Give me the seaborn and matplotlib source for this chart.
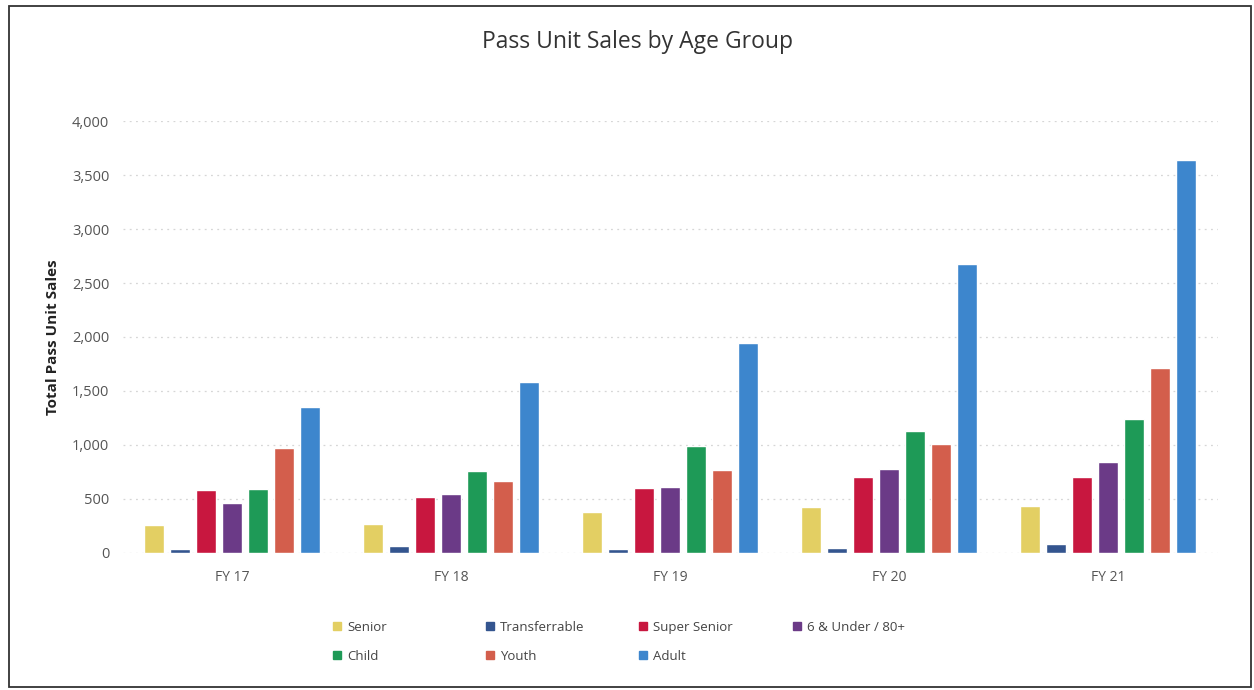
import matplotlib
matplotlib.use("Agg")
import matplotlib.pyplot as plt
from matplotlib.patches import Rectangle
from matplotlib.lines import Line2D
import seaborn as sns
import pandas as pd

# Fiscal years and age groups
years = ["FY 17", "FY 18", "FY 19", "FY 20", "FY 21"]
groups = ["Senior", "Transferrable", "Super Senior", "6 & Under / 80+",
          "Child", "Youth", "Adult"]

# Pass unit sales per age group, one value per fiscal year
senior = [255, 265, 380, 425, 435]
transferrable = [40, 65, 40, 45, 80]
super_senior = [580, 520, 605, 700, 700]
under6_80plus = [460, 545, 610, 775, 845]
child = [590, 760, 990, 1130, 1240]
youth = [970, 670, 770, 1005, 1715]
adult = [1350, 1585, 1945, 2680, 3640]

colors = ["#E3CF63", "#34558F", "#C8173F", "#6B3A87",
          "#1E9A57", "#D35E4C", "#3D86CD"]

series = [senior, transferrable, super_senior, under6_80plus, child, youth, adult]
rows = []
for g, vals in zip(groups, series):
    for y, v in zip(years, vals):
        rows.append({"Year": y, "Group": g, "Sales": v})
df = pd.DataFrame(rows)

sns.set_theme(style="white")
plt.rcParams["font.family"] = ["Open Sans", "DejaVu Sans"]

W, H = 1254, 690
fig = plt.figure(figsize=(W / 100, H / 100), dpi=100)
ax = fig.add_axes([0.0977, 0.1986, 0.8733, 0.626])

sns.barplot(data=df, x="Year", y="Sales", hue="Group", order=years,
            hue_order=groups, palette=colors, width=0.83, gap=0.25,
            saturation=1, errorbar=None, legend=False, ax=ax)

ax.set_ylim(0, 4000)
ax.set_xlim(-0.5, len(years) - 0.5)
ax.set_yticks(range(0, 4001, 500))
ax.set_yticklabels([f"{v:,}" for v in range(0, 4001, 500)])
ax.yaxis.grid(True, color="#d6d6d6", linestyle=(0, (1.5, 3.5)), linewidth=0.9)
ax.set_axisbelow(True)
for s in ax.spines.values():
    s.set_visible(False)
ax.tick_params(axis="both", length=0, colors="#555555")
ax.tick_params(axis="y", pad=9.5, labelsize=10.5)
ax.tick_params(axis="x", pad=12, labelsize=10)
ax.set_xlabel("")
ax.set_ylabel("Total Pass Unit Sales", fontsize=11, fontweight="bold",
              color="#222222")
ax.yaxis.set_label_coords(-0.057, 0.5)

fig.text(0.508, 0.939, "Pass Unit Sales by Age Group", ha="center",
         va="center", fontsize=16.5, color="#333333")

# legend laid out as four fixed-width columns, filled row by row
col_x = [337, 490, 643, 797]
ncols = 4
for c in range(ncols):
    idx = list(range(c, len(groups), ncols))
    handles = [Line2D([], [], marker="s", linestyle="", markersize=5.5,
                      markerfacecolor=colors[i], markeredgecolor=colors[i])
               for i in idx]
    fig.legend(handles, [groups[i] for i in idx], loc="upper left",
               bbox_to_anchor=((col_x[c] - 5) / W, 1 - 621 / H),
               frameon=False, fontsize=9.5, labelcolor="#444444",
               handletextpad=0.35, handlelength=0.8, borderpad=0,
               borderaxespad=0, labelspacing=1.2)

# outer frame around the whole chart
fig.patches.append(Rectangle((9 / W, 3 / H), 1242 / W, 681 / H,
                             transform=fig.transFigure, fill=False,
                             edgecolor="#333333", linewidth=1.3))

fig.savefig("out.png", dpi=100, facecolor="white")
